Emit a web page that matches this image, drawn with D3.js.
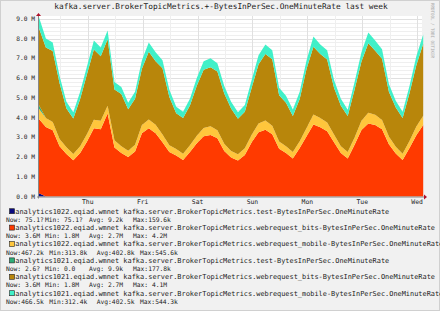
<!DOCTYPE html>
<html><head><meta charset="utf-8">
<script src="https://cdn.jsdelivr.net/npm/d3@7"></script>
<style>body{margin:0;background:#f1f1f1;}svg{display:block}</style>
</head><body><svg id="c" width="440" height="311"></svg>
<script>
const title = "kafka.server.BrokerTopicMetrics.+-BytesInPerSec.OneMinuteRate last week";
const watermark = "RRDTOOL / TOBI OETIKER";
const stepHours = 3;
// values in MBytes/s, one sample every 3 hours starting Wed 02:40
const test1022 = [0.16,0.0001,0.0001,0.0001,0.0001,0.0001,0.0001,0.0001,0.0001,0.0001,0.0001,0.0001,0.0001,0.0001,0.0001,0.0001,0.0001,0.0001,0.0001,0.0001,0.0001,0.0001,0.0001,0.0001,0.0001,0.0001,0.0001,0.0001,0.0001,0.0001,0.0001,0.0001,0.0001,0.0001,0.0001,0.0001,0.0001,0.0001,0.0001,0.0001,0.0001,0.0001,0.0001,0.0001,0.0001,0.0001,0.0001,0.0001,0.0001,0.0001,0.0001,0.0001,0.0001,0.0001,0.0001,0.0001,0.0001];
const bits1022 = [3.76,3.52,3.35,2.55,2.15,1.83,2.2,2.78,3.45,3.4,4.2,2.48,2.2,2.0,2.28,3.2,3.45,3.2,2.75,2.25,2.08,1.85,2.25,2.7,3.05,3.12,2.95,2.3,1.97,1.82,2.1,2.75,3.25,3.38,3.15,2.42,2.2,1.93,2.45,3.05,3.65,3.5,3.3,2.75,2.2,1.93,2.62,3.37,3.7,3.62,3.4,2.65,2.18,1.85,2.45,3.1,3.62];
const mobile1022 = [0.52,0.45,0.42,0.36,0.34,0.32,0.35,0.38,0.44,0.44,0.40,0.37,0.35,0.32,0.34,0.42,0.45,0.43,0.39,0.35,0.33,0.32,0.34,0.38,0.42,0.44,0.41,0.37,0.33,0.32,0.34,0.38,0.44,0.47,0.43,0.36,0.34,0.32,0.35,0.42,0.50,0.48,0.45,0.39,0.35,0.32,0.37,0.46,0.54,0.52,0.47,0.39,0.34,0.32,0.36,0.44,0.47];
const test1021 = [0.18,0,0,0,0,0,0,0,0,0,0,0,0,0,0,0,0,0,0,0,0,0,0,0,0,0,0,0,0,0,0,0,0,0,0,0,0,0,0,0,0,0,0,0,0,0,0,0,0,0,0,0,0,0,0,0,0];
const bits1021 = [3.9,3.57,3.6,2.82,1.97,1.80,2.39,3.04,3.55,3.26,3.36,2.57,2.64,2.10,2.33,2.85,3.43,3.22,3.35,2.44,1.80,1.80,2.02,2.53,2.95,2.99,2.97,2.55,2.16,1.80,1.85,2.38,3.01,3.37,3.37,2.35,2.21,1.82,2.14,3.0,3.43,3.23,3.19,2.36,2.05,1.82,2.43,3.0,3.52,3.24,3.1,2.26,1.98,1.80,2.42,3.11,3.64];
const mobile1021 = [0.55,0.46,0.43,0.37,0.34,0.32,0.36,0.40,0.46,0.45,0.44,0.38,0.36,0.33,0.35,0.43,0.47,0.45,0.41,0.36,0.34,0.32,0.34,0.39,0.43,0.45,0.42,0.38,0.34,0.32,0.34,0.39,0.45,0.48,0.45,0.37,0.35,0.33,0.36,0.43,0.52,0.49,0.46,0.40,0.35,0.32,0.38,0.47,0.54,0.52,0.48,0.40,0.35,0.32,0.37,0.45,0.47];

const seriesKeys = ["test1022","bits1022","mobile1022","test1021","bits1021","mobile1021"];
const seriesData = {test1022,bits1022,mobile1022,test1021,bits1021,mobile1021};
const seriesColors = ["#0a0a80","#ff3a00","#ffc63c","#2fae78","#b8860b","#40f0c8"];
const legendNames = [
 "analytics1022.eqiad.wmnet kafka.server.BrokerTopicMetrics.test-BytesInPerSec.OneMinuteRate",
 "analytics1022.eqiad.wmnet kafka.server.BrokerTopicMetrics.webrequest_bits-BytesInPerSec.OneMinuteRate",
 "analytics1022.eqiad.wmnet kafka.server.BrokerTopicMetrics.webrequest_mobile-BytesInPerSec.OneMinuteRate",
 "analytics1021.eqiad.wmnet kafka.server.BrokerTopicMetrics.test-BytesInPerSec.OneMinuteRate",
 "analytics1021.eqiad.wmnet kafka.server.BrokerTopicMetrics.webrequest_bits-BytesInPerSec.OneMinuteRate",
 "analytics1021.eqiad.wmnet kafka.server.BrokerTopicMetrics.webrequest_mobile-BytesInPerSec.OneMinuteRate"];
const legendNow = ["75.1?","3.6M","467.2k","2.6?","3.6M","466.5k"];
const legendMin = ["75.1?","1.8M","313.8k","0.0","1.8M","312.4k"];
const legendAvg = ["9.2k","2.7M","402.8k","9.9k","2.7M","402.5k"];
const legendMax = ["159.6k","4.2M","545.6k","177.8k","4.1M","544.3k"];
const yTickValues = [0,1,2,3,4,5,6,7,8,9];
const dayLabels = ["Thu","Fri","Sat","Sun","Mon","Tue","Wed"];

const svg = d3.select("#c");
const W=440,H=311;
const x0=39, x1=423.2, yB=196.5, yT=18.75, plotRight=422;
const t0 = new Date(2014,5,11,2,40);
const tEnd = d3.timeHour.offset(t0, 168);
const times = bits1022.map((_,i)=>d3.timeHour.offset(t0,i*stepHours));
const x = d3.scaleTime().domain([t0,tEnd]).range([x0,x1]);
const y = d3.scaleLinear().domain([0,9]).range([yB,yT]);
const mono = "'DejaVu Sans Mono', monospace";

svg.append("rect").attr("width",W).attr("height",H).attr("fill","#f1f1f1");
svg.append("rect").attr("x",0.5).attr("y",0.5).attr("width",W-1).attr("height",H-1).attr("fill","none").attr("stroke","#d0d0d0");
svg.append("rect").attr("x",x0).attr("y",16).attr("width",plotRight-x0).attr("height",yB-16).attr("fill","#fff");

// grid
const g = svg.append("g");
d3.range(1,46).map(k=>k*0.2).forEach(v=>{
  const major = Math.abs(v-Math.round(v))<1e-6;
  g.append("line").attr("x1",x0).attr("x2",plotRight).attr("y1",Math.round(y(v))+0.5).attr("y2",Math.round(y(v))+0.5)
   .attr("stroke",major?"#e0e0e0":"#efefef").attr("stroke-width",1);
});
d3.timeHour.every(12).range(t0,tEnd).forEach(t=>{
  const xx=Math.round(x(t))+0.5;
  g.append("line").attr("x1",xx).attr("x2",xx).attr("y1",16).attr("y2",yB)
   .attr("stroke",t.getHours()===0?"#e0e0e0":"#efefef");
});

// stacked areas
const rows = times.map((t,i)=>{const o={t}; seriesKeys.forEach(k=>o[k]=seriesData[k][i]); return o;});
const stack = d3.stack().keys(seriesKeys)(rows);
const area = d3.area().x(d=>x(d.data.t)).y0(d=>y(d[0])).y1(d=>y(d[1]));
svg.append("g").selectAll("path").data(stack).join("path")
  .attr("d",area).attr("fill",(d,i)=>seriesColors[i]);

// axes
svg.append("line").attr("x1",x0-2).attr("x2",424).attr("y1",yB+0.5).attr("y2",yB+0.5).attr("stroke","#888");
svg.append("line").attr("x1",x0-0.5).attr("x2",x0-0.5).attr("y1",yB+2).attr("y2",15).attr("stroke","#888");
svg.append("path").attr("d",`M${424},${yB-2} L${427},${yB+0.5} L${424},${yB+3} Z`).attr("fill","#b0102a");
svg.append("path").attr("d",`M${x0-3},${16} L${x0-0.5},${13} L${x0+2},${16} Z`).attr("fill","#b0102a");

// y labels
svg.append("g").selectAll("text").data(yTickValues).join("text")
  .attr("x",35).attr("y",d=>y(d)+2.2).attr("text-anchor","end")
  .attr("font-family",mono).attr("font-size",6.2).attr("fill","#222")
  .text(d=>d3.format(".1f")(d)+" M");

// x labels
const dayTicks = d3.timeDay.range(d3.timeDay.ceil(t0), tEnd);
svg.append("g").selectAll("text").data(dayTicks).join("text")
  .attr("x",d=>x(d)).attr("y",203.8).attr("text-anchor","middle")
  .attr("font-family",mono).attr("font-size",6.4).attr("fill","#222")
  .text((d,i)=>dayLabels[i]);

// title
svg.append("text").attr("x",221).attr("y",9.3).attr("text-anchor","middle")
  .attr("font-family",mono).attr("font-size",7.8).attr("fill","#222").text(title);

// watermark
svg.append("text").attr("transform","translate(431,3) rotate(90)")
  .attr("font-family",mono).attr("font-size",4.6).attr("fill","#aaa")
  .attr("textLength",55).attr("lengthAdjust","spacingAndGlyphs").text(watermark);

// legend
const lg = svg.append("g").attr("font-family",mono).attr("fill","#222");
const rowH = 8.2, row0 = 211.2;
legendNames.forEach((name,i)=>{
  const cy = row0 + 2*i*rowH;
  lg.append("rect").attr("x",9.5).attr("y",cy-2.5).attr("width",5).attr("height",5)
    .attr("fill",seriesColors[i]).attr("stroke","#222").attr("stroke-width",0.6);
  lg.append("text").attr("x",15.3).attr("y",cy+2.3).attr("font-size",6.9)
    .attr("textLength",name.length*4.155).attr("lengthAdjust","spacingAndGlyphs").text(name);
  const sy = cy + rowH + 2.3;
  const wide = legendNow[i].endsWith("k");
  const fx = wide ? [6,49.3,96.7,140] : [6,45,89,133];
  const vals = [legendNow[i],legendMin[i],legendAvg[i],legendMax[i]];
  ["Now:","Min:","Avg:","Max:"].forEach((lab,j)=>{
    const v = vals[j];
    const s = v.length >= 6 ? lab + v : lab + " " + v;
    lg.append("text").attr("x",fx[j]).attr("y",sy).attr("font-size",6.3).text(s);
  });
});
</script></body></html>
